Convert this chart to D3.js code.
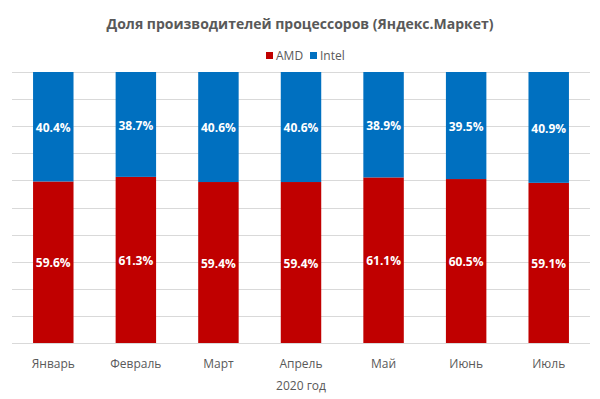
<!DOCTYPE html>
<html>
<head>
<meta charset="utf-8">
<script src="https://cdn.jsdelivr.net/npm/d3@7"></script>
<style>
  body { margin: 0; background: #fff; }
  text { font-family: "Open Sans", sans-serif; }
</style>
</head>
<body>
<div id="chart-area"></div>
<script>
// data
var months = ["Январь", "Февраль", "Март", "Апрель", "Май", "Июнь", "Июль"];
var amd = [59.6, 61.3, 59.4, 59.4, 61.1, 60.5, 59.1];
var intel = [40.4, 38.7, 40.6, 40.6, 38.9, 39.5, 40.9];
var seriesNames = ["AMD", "Intel"];
var seriesColors = ["#C00000", "#0070C0"];
var yTicks = [0, 10, 20, 30, 40, 50, 60, 70, 80, 90, 100];

var margin = { left: 12, right: 10, top: 72, bottom: 56 };
var width = 600 - margin.left - margin.right;
var height = 399 - margin.top - margin.bottom;

var svg = d3.select("#chart-area")
    .append("svg")
    .attr("width", 600)
    .attr("height", 399);

var g = svg.append("g")
    .attr("transform", "translate(" + margin.left + "," + margin.top + ")");

var table = months.map(function(m, i) {
    return { month: m, AMD: amd[i], Intel: intel[i] };
});

var x = d3.scaleBand()
    .domain(months)
    .range([0, width])
    .paddingInner(0.51)
    .paddingOuter(0.255);

var y = d3.scaleLinear()
    .domain([0, 100])
    .range([height, 0]);

// gridlines
g.selectAll(".grid")
    .data(yTicks)
    .enter().append("line")
    .attr("class", "grid")
    .attr("x1", 0)
    .attr("x2", width)
    .attr("y1", function(d) { return Math.round(y(d)) + 0.5; })
    .attr("y2", function(d) { return Math.round(y(d)) + 0.5; })
    .attr("stroke", "#d9d9d9")
    .attr("stroke-width", 1);

var stack = d3.stack().keys(seriesNames);
var layers = stack(table);

var layer = g.selectAll(".layer")
    .data(layers)
    .enter().append("g")
    .attr("class", "layer")
    .attr("fill", function(d, i) { return seriesColors[i]; });

layer.selectAll("rect")
    .data(function(d) { return d; })
    .enter().append("rect")
    .attr("x", function(d) { return x(d.data.month); })
    .attr("width", x.bandwidth())
    .attr("y", function(d) { return y(d[1]); })
    .attr("height", function(d) { return y(d[0]) - y(d[1]); });

// data labels
layer.selectAll(".val")
    .data(function(d) { return d; })
    .enter().append("text")
    .attr("class", "val")
    .attr("x", function(d) { return x(d.data.month) + x.bandwidth() / 2; })
    .attr("y", function(d) { return (y(d[0]) + y(d[1])) / 2 + 1; })
    .attr("dy", "0.35em")
    .attr("text-anchor", "middle")
    .attr("fill", "#fff")
    .attr("font-size", "12px")
    .attr("font-weight", "bold")
    .text(function(d) { return (d[1] - d[0]).toFixed(1) + "%"; });

// x axis
var xAxis = g.append("g")
    .attr("transform", "translate(0," + height + ")")
    .call(d3.axisBottom(x).tickSize(0).tickPadding(16));
xAxis.select(".domain").remove();
xAxis.selectAll("text")
    .attr("font-size", "12px")
    .attr("fill", "#595959")
    .style("font-family", "Open Sans, sans-serif");

// x axis label
svg.append("text")
    .attr("x", margin.left + width / 2)
    .attr("y", 390)
    .attr("text-anchor", "middle")
    .attr("font-size", "12px")
    .attr("fill", "#595959")
    .text("2020 год");

// title
svg.append("text")
    .attr("x", 300)
    .attr("y", 29)
    .attr("text-anchor", "middle")
    .attr("font-size", "14px")
    .attr("font-weight", "bold")
    .attr("fill", "#595959")
    .text("Доля производителей процессоров (Яндекс.Маркет)");

// legend
var legendX = [266, 310];
var legend = svg.selectAll(".legend")
    .data(seriesNames)
    .enter().append("g")
    .attr("class", "legend")
    .attr("transform", function(d, i) { return "translate(" + legendX[i] + ",52)"; });

legend.append("rect")
    .attr("width", 7)
    .attr("height", 7)
    .attr("fill", function(d, i) { return seriesColors[i]; });

legend.append("text")
    .attr("x", 10)
    .attr("y", 4)
    .attr("dy", "0.35em")
    .attr("font-size", "12px")
    .attr("fill", "#595959")
    .text(function(d) { return d; });
</script>
</body>
</html>
